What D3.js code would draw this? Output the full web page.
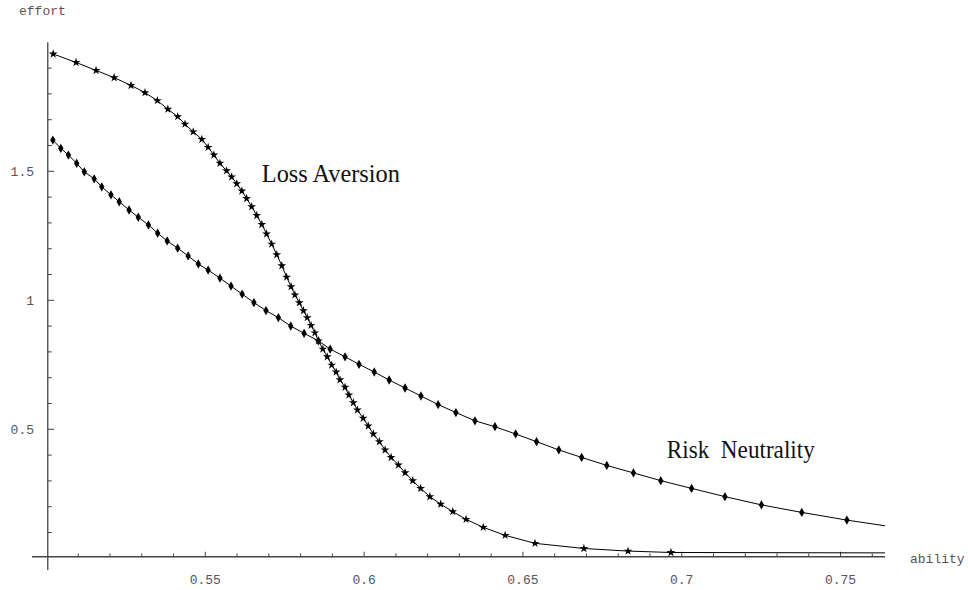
<!DOCTYPE html>
<html>
<head>
<meta charset="utf-8">
<script src="https://cdn.jsdelivr.net/npm/d3@7.9.0/dist/d3.min.js"></script>
<style>
  html, body { margin: 0; padding: 0; background: #fff; }
  svg { display: block; }
  .tick-label { font-family: "Liberation Mono", "Courier New", monospace; font-size: 13px; fill: #555; }
  .curve-label { font-family: "Liberation Serif", "Times New Roman", serif; font-size: 26px; fill: #111; white-space: pre; }
</style>
</head>
<body>
<svg id="chart" width="968" height="590"></svg>
<script>
// Loss Aversion curve (star markers)
const lossX = [0.5021, 0.5093, 0.5156, 0.5213, 0.5266, 0.5310, 0.5349, 0.5382, 0.5413, 0.5436,
  0.5462, 0.5489, 0.5509, 0.5527, 0.5546, 0.5567, 0.5583, 0.5599, 0.5615, 0.5630,
  0.5646, 0.5662, 0.5678, 0.5693, 0.5709, 0.5725, 0.5741, 0.5756, 0.5770, 0.5782,
  0.5796, 0.5809, 0.5821, 0.5833, 0.5845, 0.5856, 0.5870, 0.5884, 0.5898, 0.5912,
  0.5924, 0.5940, 0.5952, 0.5966, 0.5979, 0.5997, 0.6013, 0.6029, 0.6048, 0.6066,
  0.6085, 0.6108, 0.6129, 0.6153, 0.6178, 0.6207, 0.6241, 0.6279, 0.6321, 0.6375,
  0.6444, 0.6538, 0.6692, 0.6831, 0.6966, 0.764];
const lossY = [1.955, 1.922, 1.891, 1.863, 1.833, 1.805, 1.774, 1.741, 1.712, 1.683,
  1.653, 1.624, 1.593, 1.563, 1.531, 1.502, 1.478, 1.452, 1.424, 1.395,
  1.363, 1.329, 1.294, 1.257, 1.218, 1.177, 1.134, 1.090, 1.053, 1.021,
  0.991, 0.960, 0.933, 0.903, 0.874, 0.843, 0.811, 0.781, 0.749, 0.722,
  0.692, 0.663, 0.633, 0.603, 0.575, 0.543, 0.513, 0.482, 0.452, 0.420,
  0.391, 0.362, 0.332, 0.301, 0.271, 0.239, 0.210, 0.181, 0.151, 0.120,
  0.089, 0.058, 0.038, 0.028, 0.0225, 0.021];

// Risk Neutrality curve (diamond markers)
const riskX = [0.5020, 0.5045, 0.5069, 0.5095, 0.5119, 0.5150, 0.5174, 0.5203, 0.5229, 0.5260,
  0.5289, 0.5321, 0.5350, 0.5380, 0.5413, 0.5446, 0.5478, 0.5509, 0.5546, 0.5581,
  0.5616, 0.5653, 0.5691, 0.5730, 0.5769, 0.5811, 0.5856, 0.5893, 0.5940, 0.5984,
  0.6032, 0.6079, 0.6129, 0.6179, 0.6233, 0.6289, 0.6349, 0.6412, 0.6477, 0.6543,
  0.6613, 0.6685, 0.6764, 0.6848, 0.6934, 0.7031, 0.7136, 0.7251, 0.7378, 0.7520, 0.764];
const riskY = [1.621, 1.589, 1.563, 1.531, 1.498, 1.471, 1.440, 1.409, 1.382, 1.350,
  1.322, 1.292, 1.260, 1.230, 1.202, 1.172, 1.141, 1.117, 1.086, 1.055,
  1.024, 0.991, 0.960, 0.933, 0.900, 0.872, 0.843, 0.811, 0.781, 0.752,
  0.722, 0.691, 0.660, 0.629, 0.596, 0.565, 0.533, 0.510, 0.482, 0.452,
  0.420, 0.391, 0.360, 0.331, 0.301, 0.271, 0.239, 0.207, 0.178, 0.148, 0.126];

const xTicks = [0.55, 0.6, 0.65, 0.7, 0.75];
const xTickLabels = ['0.55', '0.6', '0.65', '0.7', '0.75'];
const yTicks = [0.5, 1, 1.5];
const yTickLabels = ['0.5', '1', '1.5'];
const xMinor = d3.range(51, 77).map(d => d / 100);
const yMinor = d3.range(1, 20).map(d => d / 10);

const curveLabels = [
  { text: 'Loss Aversion', x: 0.5678, y: 1.46, width: 138 },
  { text: 'Risk  Neutrality', x: 0.6953, y: 0.388, width: 148 }
];

const svg = d3.select('#chart');

const x = d3.scaleLinear().domain([0.5, 0.764]).range([46.5, 885]);
const y = d3.scaleLinear().domain([0, 2]).range([558.3, 42.3]);

const axisY = y(0.006);
const axisX = x(0.5004);
const axisColor = '#444';

// axes lines
svg.append('line')
  .attr('x1', 32).attr('x2', x(0.764))
  .attr('y1', axisY).attr('y2', axisY)
  .attr('stroke', axisColor).attr('stroke-width', 1.3);
svg.append('line')
  .attr('x1', axisX).attr('x2', axisX)
  .attr('y1', y(2)).attr('y2', 570)
  .attr('stroke', axisColor).attr('stroke-width', 1.3);

// x ticks
svg.selectAll('.xminor').data(xMinor).join('line')
  .attr('x1', d => x(d)).attr('x2', d => x(d))
  .attr('y1', axisY).attr('y2', d => axisY - (xTicks.some(t => Math.abs(t - d) < 1e-6) ? 5 : 3.3))
  .attr('stroke', axisColor).attr('stroke-width', 1);

svg.selectAll('.xlab').data(xTicks).join('text')
  .attr('class', 'tick-label')
  .attr('x', d => x(d)).attr('y', 584)
  .attr('text-anchor', 'middle')
  .text((d, i) => xTickLabels[i]);

// y ticks
svg.selectAll('.yminor').data(yMinor).join('line')
  .attr('y1', d => y(d)).attr('y2', d => y(d))
  .attr('x1', axisX).attr('x2', d => axisX + (yTicks.some(t => Math.abs(t - d) < 1e-6) ? 6.5 : 4))
  .attr('stroke', axisColor).attr('stroke-width', 1);

svg.selectAll('.ylab').data(yTicks).join('text')
  .attr('class', 'tick-label')
  .attr('x', 34).attr('y', d => y(d) + 5)
  .attr('text-anchor', 'end')
  .text((d, i) => yTickLabels[i]);

// axis titles
svg.append('text').attr('class', 'tick-label').attr('x', 19).attr('y', 15).text('effort');
svg.append('text').attr('class', 'tick-label').attr('x', 910).attr('y', 563).text('ability');

// curves
const loss = lossX.map((v, i) => [v, lossY[i]]);
const risk = riskX.map((v, i) => [v, riskY[i]]);
const line = d3.line().x(d => x(d[0])).y(d => y(d[1]));

[loss, risk].forEach(data => {
  svg.append('path')
    .attr('d', line(data))
    .attr('fill', 'none')
    .attr('stroke', '#000')
    .attr('stroke-width', 1);
});

const star = d3.symbol().type(d3.symbolStar).size(24);
const diamond = d3.symbol().type(d3.symbolDiamond).size(25);

svg.selectAll('.star').data(loss.slice(0, -1)).join('path')
  .attr('d', star)
  .attr('transform', d => `translate(${x(d[0])},${y(d[1])})`)
  .attr('fill', '#000');

svg.selectAll('.diamond').data(risk.slice(0, -1)).join('path')
  .attr('d', diamond)
  .attr('transform', d => `translate(${x(d[0])},${y(d[1])})`)
  .attr('fill', '#000');

// curve labels
svg.selectAll('.curve-label').data(curveLabels).join('text')
  .attr('class', 'curve-label')
  .attr('x', d => x(d.x)).attr('y', d => y(d.y))
  .attr('textLength', d => d.width)
  .attr('lengthAdjust', 'spacingAndGlyphs')
  .text(d => d.text);
</script>
</body>
</html>
